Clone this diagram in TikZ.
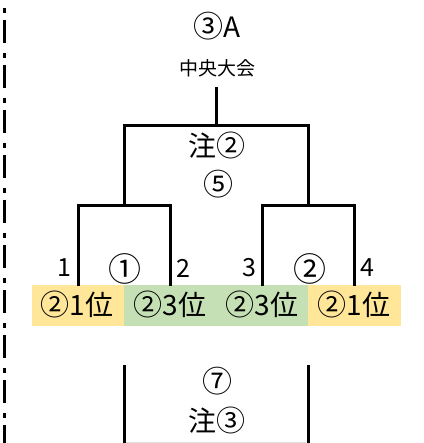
\documentclass[tikz,border=0pt]{standalone}
\usepackage{fontspec}
\setmainfont{Noto Sans CJK JP}
\definecolor{ylw}{HTML}{FFE699}
\definecolor{grn}{HTML}{C5E0B4}
\newcommand\cnum[2]{{\fontsize{#1}{#1}\selectfont #2}}
\begin{document}
\begin{tikzpicture}[x=1pt,y=-1pt,
  bline/.style={line width=3pt},
  lbl/.style={inner sep=0pt,anchor=center},
  big/.style={lbl,font=\fontsize{28}{30}\selectfont},
  num/.style={lbl,font=\fontsize{25}{27}\selectfont},
  bartext/.style={lbl,font=\fontsize{28}{30}\selectfont}]
\useasboundingbox (0,0) rectangle (423,443);
% dashed side line
\draw[line width=2.5pt,dash pattern=on 5pt off 7pt on 23pt off 10pt] (4.5,8) -- (4.5,443);
% colour bar
\fill[ylw] (32,285) rectangle (124,326);
\fill[grn] (124,285) rectangle (308,326);
\fill[ylw] (308,285) rectangle (401,326);
% coordinates
\coordinate (top) at (216,87);
\coordinate (mid) at (216,126);
\coordinate (l1) at (124,126);
\coordinate (r1) at (308,126);
\coordinate (l1b) at (124,206);
\coordinate (r1b) at (308,206);
\coordinate (a) at (78,206);
\coordinate (b) at (170,206);
\coordinate (c) at (262,206);
\coordinate (d) at (354,206);
\coordinate (ae) at (78,286);
\coordinate (be) at (170,286);
\coordinate (ce) at (262,286);
\coordinate (de) at (354,286);
\coordinate (bl) at (124,365);
\coordinate (br) at (308,365);
\coordinate (blb) at (124,443);
\coordinate (brb) at (308,443);
% bracket
\draw[bline] (top) -- (mid);
\draw[bline] (l1b) -- (l1) -- (r1) -- (r1b);
\draw[bline] (ae) -- (a) -- (b) -- (be);
\draw[bline] (ce) -- (c) -- (d) -- (de);
\draw[bline] (blb) -- (bl);
\draw[bline] (brb) -- (br);
\draw[gray!25,line width=1pt] (126,442.5) -- (306,442.5);
% texts
\node[lbl,font=\fontsize{28}{30}\selectfont] (t1) at (217,26) {\cnum{30}{③}A};
\node[lbl,font=\fontsize{19}{21}\selectfont] (t2) at (217,68) {中央大会};
\node[big] (t3) at (217,145) {注\cnum{29}{②}};
\node[big] (t4) at (218,184) {\cnum{30}{⑤}};
\node[num] (n1) at (64,268) {1};
\node[num] (n2) at (125,269) {\cnum{33}{①}};
\node[num] (n3) at (183,268) {2};
\node[num] (n4) at (249,268) {3};
\node[num] (n5) at (310,269) {\cnum{33}{②}};
\node[num] (n6) at (367,268) {4};
\node[bartext] (b1) at (77,304) {\cnum{29}{②}1位};
\node[bartext] (b2) at (170,304) {\cnum{29}{②}3位};
\node[bartext] (b3) at (262,304) {\cnum{29}{②}3位};
\node[bartext] (b4) at (354,304) {\cnum{29}{②}1位};
\node[big] (t5) at (217,381) {\cnum{30}{⑦}};
\node[big] (t6) at (217,420) {注\cnum{29}{③}};
\end{tikzpicture}
\end{document}
